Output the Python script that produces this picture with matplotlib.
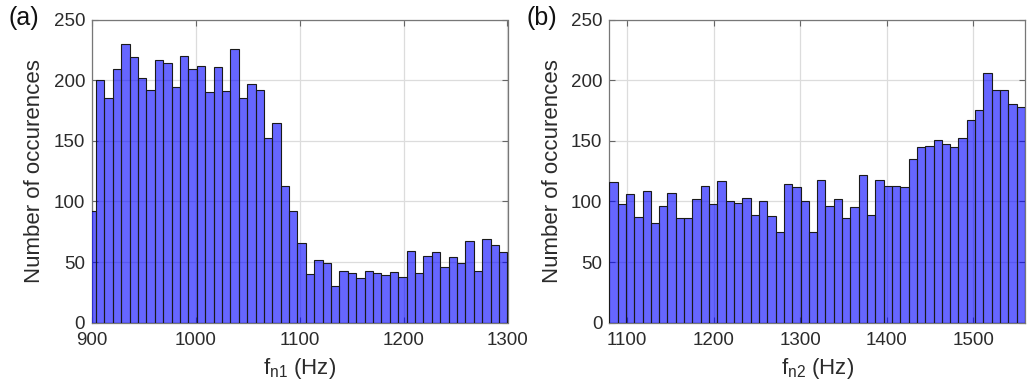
import matplotlib
matplotlib.use("Agg")
import matplotlib.pyplot as plt
import numpy as np

plt.rcParams['font.family'] = ['Liberation Sans', 'DejaVu Sans']
plt.rcParams['mathtext.fontset'] = 'custom'
plt.rcParams['mathtext.rm'] = 'Liberation Sans'
plt.rcParams['mathtext.it'] = 'Liberation Sans'

# ---- data ----
# panel (a): f_n1 histogram
bin_start1 = 895.82   # Hz, left edge of first bin
bin_width1 = 8.08     # Hz
counts1 = [92, 200, 185, 209, 230, 219, 202, 192, 217, 214,
           194, 220, 209, 212, 190, 211, 191, 226, 185, 197,
           192, 152, 165, 113, 92, 66, 40, 52, 49, 30,
           43, 41, 37, 43, 41, 39, 42, 38, 59, 41,
           55, 58, 46, 54, 49, 67, 43, 69, 64, 58]
xlim1 = [900, 1300]
xticks1 = [900, 1000, 1100, 1200, 1300]

# panel (b): f_n2 histogram
bin_start2 = 1079.2
bin_width2 = 9.61
counts2 = [116, 98, 106, 87, 109, 82, 96, 107, 86, 86,
           102, 113, 98, 117, 100, 99, 103, 89, 100, 88,
           75, 114, 112, 100, 75, 118, 96, 102, 86, 95,
           122, 89, 118, 113, 113, 112, 135, 145, 146, 151,
           147, 145, 152, 167, 175, 206, 192, 192, 180, 178]
xticks2 = [1100, 1200, 1300, 1400, 1500]

yticks = [0, 50, 100, 150, 200, 250]
ylabel = "Number of occurences"
xlabel1 = r"f$_{\rm n1}$ (Hz)"
xlabel2 = r"f$_{\rm n2}$ (Hz)"
panel_labels = ["(a)", "(b)"]

# ---- figure ----
W, H = 1033, 389
fig = plt.figure(figsize=(W / 100, H / 100), dpi=100)
ax1 = fig.add_axes([92 / W, 1 - 322.7 / H, 415.5 / W, 303.2 / H])
ax2 = fig.add_axes([609.3 / W, 1 - 322.7 / H, 415.7 / W, 303.2 / H])

face = (0.0, 0.0, 1.0, 0.6)
edge = (0.1, 0.1, 0.1, 1.0)

def draw(ax, start, width, counts, xlim, xticks, xlabel, plabel):
    n = len(counts)
    lefts = start + width * np.arange(n)
    ax.set_axisbelow(True)
    ax.grid(True, color='#dcdcdc', linewidth=0.9)
    ax.bar(lefts, counts, width=width, align='edge', color=face,
           edgecolor=edge, linewidth=0.8, zorder=3)
    ax.set_xlim(xlim)
    ax.set_ylim(0, 250)
    ax.set_xticks(xticks)
    ax.set_yticks(yticks)
    ax.tick_params(direction='in', length=4, width=0.8, colors='#666666',
                   labelcolor='#2b2b2b', labelsize=13.5, top=True, right=True)
    ax.tick_params(axis='x', pad=7)
    ax.tick_params(axis='y', pad=5)
    for s in ax.spines.values():
        s.set_color('#777777')
        s.set_linewidth(0.9)
    ax.set_ylabel(ylabel, fontsize=16, color='#2b2b2b', labelpad=6)
    ax.set_xlabel(xlabel, fontsize=16, color='#2b2b2b', labelpad=5)
    ax.text(-0.2, 1.005, plabel, transform=ax.transAxes, fontsize=18,
            ha='left', va='center', color='#111111')

draw(ax1, bin_start1, bin_width1, counts1, xlim1, xticks1, xlabel1, panel_labels[0])
xlim2 = [bin_start2, bin_start2 + bin_width2 * len(counts2)]
draw(ax2, bin_start2, bin_width2, counts2, xlim2, xticks2, xlabel2, panel_labels[1])

fig.savefig("out.png", dpi=100)
